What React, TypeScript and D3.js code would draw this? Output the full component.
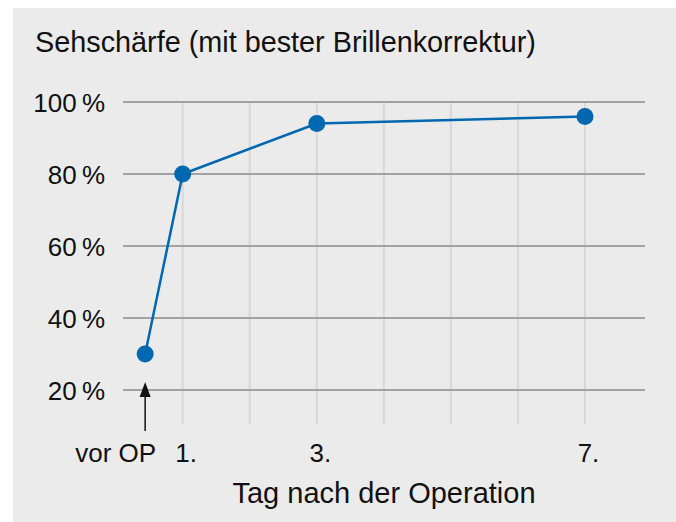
import React, { useEffect, useRef } from 'react'
import * as d3 from 'd3'

// x position of the measurements (day after surgery; "vor OP" sits left of day 1)
const pointDays = [0.44, 1, 3, 7]
const acuity = [30, 80, 94, 96]

const xTickDays = [0, 1, 3, 7]
const xTickLabels = ['vor OP', '1.', '3.', '7.']
const gridDays = [1, 2, 3, 4, 5, 6, 7]
const yTicks = [20, 40, 60, 80, 100]

const title = 'Sehschärfe (mit bester Brillenkorrektur)'
const xTitle = 'Tag nach der Operation'

const W = 676
const H = 522
const FONT = '"Liberation Sans", Arial, Helvetica, sans-serif'
const BLUE = '#0067b1'

export default function App() {
  const svgRef = useRef<SVGSVGElement | null>(null)

  useEffect(() => {
    const svg = d3.select(svgRef.current)
    svg.selectAll('*').remove()

    const x = d3.scaleLinear().domain([1, 7]).range([182.7, 585])
    const y = d3.scaleLinear().domain([20, 100]).range([390, 102])

    svg.append('rect')
      .attr('x', 13).attr('y', 8)
      .attr('width', W - 13).attr('height', H - 8)
      .attr('fill', '#ebebeb')

    svg.append('text')
      .attr('x', 35).attr('y', 52)
      .attr('font-family', FONT).attr('font-size', 28.8)
      .attr('fill', '#111')
      .text(title)

    // vertical day grid
    svg.append('g')
      .selectAll('line')
      .data(gridDays)
      .join('line')
      .attr('x1', d => x(d)).attr('x2', d => x(d))
      .attr('y1', y(100) + 1).attr('y2', 424)
      .attr('stroke', '#d8d8d8')
      .attr('stroke-width', 2)

    // horizontal grid
    svg.append('g')
      .selectAll('line')
      .data(yTicks)
      .join('line')
      .attr('x1', 123).attr('x2', 645)
      .attr('y1', d => y(d)).attr('y2', d => y(d))
      .attr('stroke', '#a2a2a2')
      .attr('stroke-width', 2)

    svg.append('g')
      .selectAll('text')
      .data(yTicks)
      .join('text')
      .attr('x', 105)
      .attr('y', d => y(d) + 9.5)
      .attr('text-anchor', 'end')
      .attr('font-family', FONT).attr('font-size', 26)
      .attr('fill', '#111')
      .text(d => `${d}\u2009%`)

    svg.append('g')
      .selectAll('text')
      .data(xTickDays)
      .join('text')
      .attr('x', (d, i) => x(d) + (i === 0 ? 0 : 3.5))
      .attr('y', 461.5)
      .attr('text-anchor', 'middle')
      .attr('font-family', FONT).attr('font-size', 26)
      .attr('fill', '#111')
      .text((d, i) => xTickLabels[i])

    svg.append('text')
      .attr('x', 384).attr('y', 503)
      .attr('text-anchor', 'middle')
      .attr('font-family', FONT).attr('font-size', 29)
      .attr('fill', '#111')
      .text(xTitle)

    // arrow marking the pre-op value
    const ax = x(pointDays[0])
    svg.append('line')
      .attr('x1', ax).attr('x2', ax)
      .attr('y1', 396).attr('y2', 431)
      .attr('stroke', '#111').attr('stroke-width', 1.5)
    svg.append('path')
      .attr('d', `M${ax},382 L${ax - 5.5},397 L${ax + 5.5},397 Z`)
      .attr('fill', '#111')

    const pts = pointDays.map((d, i) => [x(d), y(acuity[i])] as [number, number])

    svg.append('path')
      .attr('d', d3.line()(pts))
      .attr('fill', 'none')
      .attr('stroke', BLUE)
      .attr('stroke-width', 2.5)

    svg.append('g')
      .selectAll('circle')
      .data(pts)
      .join('circle')
      .attr('cx', d => d[0]).attr('cy', d => d[1])
      .attr('r', 8.5)
      .attr('fill', BLUE)
  }, [])

  return (
    <div style={{ position: 'absolute', left: 0, top: 0 }}>
      <svg ref={svgRef} width={W} height={H} style={{ display: 'block' }}></svg>
    </div>
  )
}
